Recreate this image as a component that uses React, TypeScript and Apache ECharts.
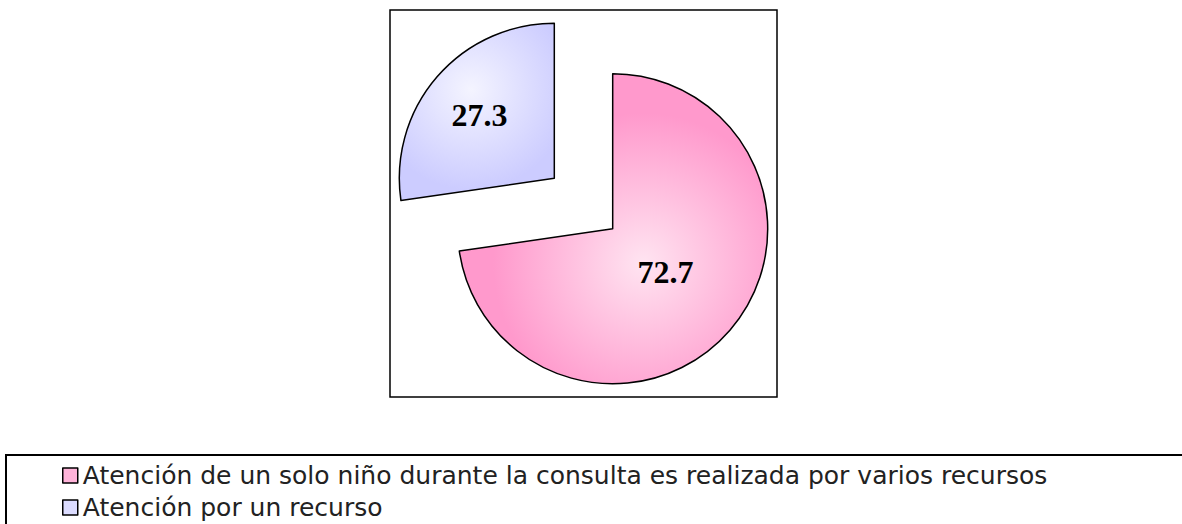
import React, { useEffect, useRef } from "react";
import * as echarts from "echarts";

const categories = [
  "Atención de un solo niño durante la consulta es realizada por varios recursos",
  "Atención por un recurso",
];
const values = [72.7, 27.3];
const labelTexts = ["72.7", "27.3"];

export default function App() {
  const ref = useRef<HTMLDivElement>(null);
  useEffect(() => {
    if (!ref.current) return;
    const chart = echarts.init(ref.current, undefined, { renderer: "svg" });
    const fills = [
      {
        type: "radial",
        x: 614,
        y: 238,
        r: 150,
        global: true,
        colorStops: [
          { offset: 0, color: "#ffe4f1" },
          { offset: 1, color: "#ff99cc" },
        ],
      },
      {
        type: "radial",
        x: 500,
        y: 115,
        r: 100,
        global: true,
        colorStops: [
          { offset: 0, color: "#f4f4ff" },
          { offset: 1, color: "#ccccff" },
        ],
      },
    ];
    const legendFills = ["#ffb3d9", "#dcdcff"];
    const labelShift = [
      [-8, -9],
      [-14, -11],
    ];
    chart.setOption({
      animation: false,
      graphic: [
        {
          type: "rect",
          shape: { x: 390, y: 10, width: 387, height: 387 },
          style: { fill: "none", stroke: "#000", lineWidth: 1.5 },
          z: -1,
        },
        {
          type: "rect",
          shape: { x: 6, y: 455, width: 1250, height: 120 },
          style: { fill: "none", stroke: "#000", lineWidth: 2 },
          z: -1,
        },
      ],
      legend: {
        orient: "vertical",
        left: 62,
        top: 463,
        padding: 0,
        itemWidth: 15,
        itemHeight: 15,
        itemGap: 7,
        icon: "rect",
        selectedMode: false,
        textStyle: {
          fontFamily: "DejaVu Sans",
          fontSize: 25,
          lineHeight: 24,
          color: "#222",
        },
        data: categories.map((c, i) => ({
          name: c,
          itemStyle: { color: legendFills[i], borderColor: "#000", borderWidth: 1.5 },
        })),
      },
      series: [
        {
          type: "pie",
          center: [583.5, 203.5],
          radius: [0, 155],
          startAngle: 90,
          clockwise: true,
          selectedMode: "multiple",
          selectedOffset: 38.6,
          emphasis: { disabled: true },
          itemStyle: { borderColor: "#000", borderWidth: 1.5 },
          select: { itemStyle: { borderColor: "#000", borderWidth: 1.5 } },
          labelLine: { show: false },
          label: {
            show: true,
            position: "inside",
            fontFamily: "Liberation Serif",
            fontWeight: "bold",
            fontSize: 32,
            color: "#000",
          },
          labelLayout: (p: any) => ({
            dx: labelShift[p.dataIndex][0],
            dy: labelShift[p.dataIndex][1],
          }),
          data: categories.map((c, i) => ({
            name: c,
            value: values[i],
            selected: true,
            itemStyle: { color: fills[i] },
            label: { formatter: labelTexts[i] },
          })),
        },
      ],
    });
    return () => chart.dispose();
  }, []);
  return (
    <div
      ref={ref}
      style={{ position: "fixed", left: 0, top: 0, width: 1182, height: 524, background: "#fff" }}
    />
  );
}
